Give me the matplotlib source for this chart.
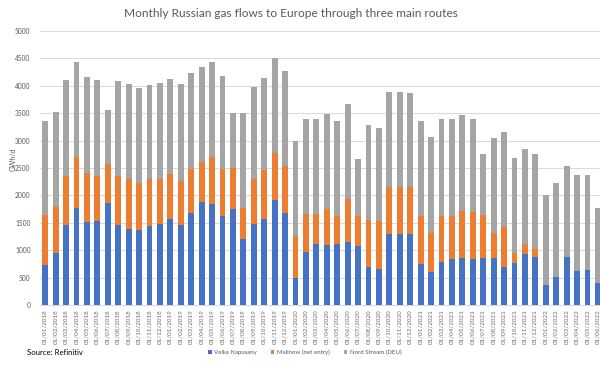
import matplotlib
matplotlib.use("Agg")
import matplotlib.pyplot as plt
import numpy as np

plt.rcParams['font.family'] = ['Lato', 'DejaVu Sans']

months = [f"01/{m:02d}/{y}" for y in range(2018, 2023) for m in range(1, 13)][:54]

velke = [730, 943, 1460, 1776, 1508, 1533, 1867, 1466, 1393, 1363, 1448, 1472,
         1575, 1454, 1673, 1886, 1843, 1630, 1752, 1204, 1484, 1563, 1910, 1673,
         499, 961, 1119, 1101, 1113, 1156, 1077, 700, 651, 1296, 1290, 1290,
         748, 596, 779, 833, 864, 833, 864, 852, 700, 773, 925, 882,
         371, 505, 870, 627, 639, 395]
mallnow = [912, 839, 900, 931, 907, 827, 700, 888, 907, 857, 845, 821,
           815, 809, 803, 730, 864, 846, 742, 572, 816, 900, 858, 870,
           766, 694, 542, 645, 517, 772, 547, 851, 888, 851, 857, 857,
           876, 712, 851, 797, 857, 870, 778, 456, 717, 170, 188, 134,
           0, 0, 0, 0, 0, 0]
nord = [1722, 1746, 1740, 1733, 1740, 1740, 985, 1734, 1733, 1746, 1722, 1752,
        1740, 1764, 1752, 1721, 1727, 1703, 1004, 1734, 1672, 1673, 1733, 1721,
        1728, 1733, 1733, 1733, 1728, 1734, 1034, 1734, 1697, 1734, 1746, 1722,
        1734, 1752, 1764, 1764, 1752, 1691, 1113, 1733, 1746, 1746, 1740, 1739,
        1636, 1727, 1666, 1751, 1739, 1369]

c_blue, c_orange, c_gray = '#4472C4', '#ED7D31', '#A5A5A5'

fig = plt.figure(figsize=(6.0, 3.66), dpi=100)
ax = fig.add_axes([0.067, 0.167, 0.933, 0.748])

x = np.arange(len(months))
v = np.array(velke); m = np.array(mallnow); n = np.array(nord)
w = 0.56
ax.bar(x, v, w, color=c_blue, label='Velke Kapusany', zorder=3)
ax.bar(x, m, w, bottom=v, color=c_orange, label='Mallnow (net entry)', zorder=3)
ax.bar(x, n, w, bottom=v + m, color=c_gray, label='Nord Stream (DEU)', zorder=3)

ax.set_xlim(-0.48, 53.2)
ax.set_ylim(0, 5000)
ax.set_yticks(np.arange(0, 5001, 500))
ax.yaxis.grid(True, color='#D9D9D9', linewidth=0.7, zorder=0)
ax.tick_params(axis='y', length=0, labelsize=4.8, labelcolor='#595959', pad=7)
ax.set_xticks(x)
ax.set_xticklabels(months, rotation=90, fontsize=4.5, color='#6b6b6b')
ax.tick_params(axis='x', length=0, pad=3)
for s in ['top', 'right', 'left']:
    ax.spines[s].set_visible(False)
ax.spines['bottom'].set_color('#D9D9D9')
ax.spines['bottom'].set_linewidth(0.7)

fig.text(0.022, 0.565, 'GWh/d', rotation=90, ha='center', va='center',
         fontsize=5, color='#595959')

fig.text(0.485, 0.962, 'Monthly Russian gas flows to Europe through three main routes',
         ha='center', va='center', fontsize=8.6, color='#595959')
fig.text(0.045, 0.038, 'Source: Refinitiv', ha='left', va='center', fontsize=5.6, color='black')

leg = fig.legend(loc='center', bbox_to_anchor=(0.508, 0.038), ncol=3, frameon=False,
                 fontsize=4.4, handlelength=0.55, handleheight=0.55, columnspacing=2.3,
                 handletextpad=0.4)
for t in leg.get_texts():
    t.set_color('#595959')

fig.savefig('out.png', dpi=100)
